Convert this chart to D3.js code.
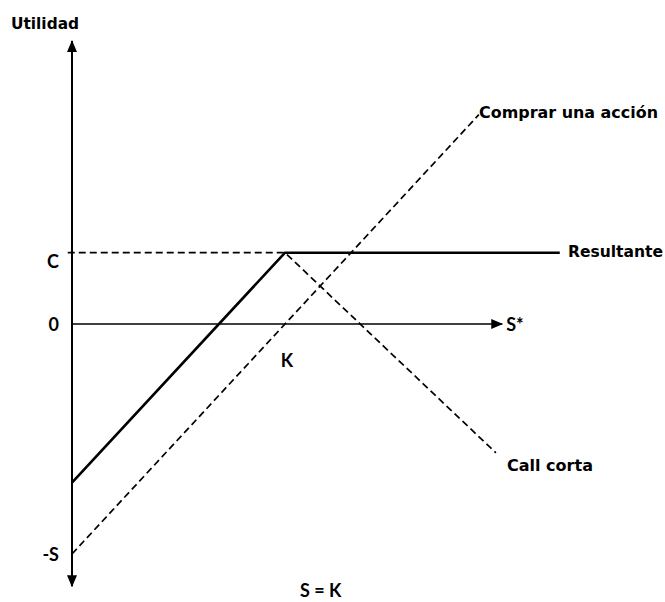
<!DOCTYPE html>
<html>
<head>
<meta charset="utf-8">
<script src="https://cdn.jsdelivr.net/npm/d3@7"></script>
<style>
  body { margin: 0; background: #fff; }
  svg { display: block; }
  .lbl { font-family: "DejaVu Sans", "Liberation Sans", Arial, sans-serif; font-weight: bold; fill: #000; }
  .tick { font-family: Lato, "Open Sans", sans-serif; font-weight: bold; fill: #000; }
</style>
</head>
<body>
<svg id="chart" width="665" height="602"></svg>
<script>
// payoff values (S = K = 10, premium C)
const K = 10;
const C = 3.1;
const S0 = 10;
const stockLine = [[0, -10], [19.1, 9.1]];          // comprar una acción
const callLine = [[-0.2, C], [K, C], [19.9, -5.6]];  // call corta (dashed)
const resultLine = [[0, -6.9], [K, C], [22.9, C]];   // resultante
const yTicks = [
  { v: C, text: "C" },
  { v: 0, text: "0" },
  { v: -S0, text: "-S" }
];
const xAxisEnd = 20.2;
const yAxisRange = [-11.4, 12.3];

const svg = d3.select("#chart");
const x = d3.scaleLinear().domain([0, 10]).range([72, 285]);
const y = d3.scaleLinear().domain([0, 10]).range([324, 94]);

const line = d3.line().x(d => x(d[0])).y(d => y(d[1]));

// arrow heads
const defs = svg.append("defs");
defs.append("marker")
    .attr("id", "arrow")
    .attr("viewBox", "0 0 12 10")
    .attr("refX", 11).attr("refY", 5)
    .attr("markerWidth", 12).attr("markerHeight", 10)
    .attr("markerUnits", "userSpaceOnUse")
    .attr("orient", "auto-start-reverse")
    .append("path")
    .attr("d", "M0,0 L12,5 L0,10 Z")
    .attr("fill", "#000");

// axes
svg.append("path")
    .attr("d", line([[0, yAxisRange[0]], [0, yAxisRange[1]]]))
    .attr("stroke", "#000").attr("stroke-width", 2)
    .attr("marker-start", "url(#arrow)")
    .attr("marker-end", "url(#arrow)");

svg.append("path")
    .attr("d", line([[0, 0], [xAxisEnd, 0]]))
    .attr("stroke", "#000").attr("stroke-width", 1.6)
    .attr("marker-end", "url(#arrow)");

// dashed lines
svg.append("path")
    .attr("d", line(stockLine))
    .attr("fill", "none").attr("stroke", "#000")
    .attr("stroke-width", 1.7).attr("stroke-dasharray", "7,4");

svg.append("path")
    .attr("d", line(callLine))
    .attr("fill", "none").attr("stroke", "#000")
    .attr("stroke-width", 1.7).attr("stroke-dasharray", "7,4");

// resultante
svg.append("path")
    .attr("d", line(resultLine))
    .attr("fill", "none").attr("stroke", "#000")
    .attr("stroke-width", 2.6);

// y labels (C sits a bit under its line in the original)
svg.selectAll(".ytick")
    .data(yTicks)
    .enter()
    .append("text")
    .attr("class", "tick")
    .attr("x", 59)
    .attr("y", d => y(d.v) + (d.text === "C" ? 15 : 7))
    .attr("text-anchor", "end")
    .style("font-size", "18px")
    .text(d => d.text);

// x labels
svg.append("text").attr("class", "tick")
    .attr("x", x(K) + 2).attr("y", 367)
    .attr("text-anchor", "middle")
    .style("font-size", "18px").text("K");

svg.append("text").attr("class", "tick")
    .attr("x", x(xAxisEnd) + 4).attr("y", y(0) + 7)
    .style("font-size", "18px").text("S*");

svg.append("text").attr("class", "tick")
    .attr("x", 300).attr("y", 597)
    .style("font-size", "18px").text("S = K");

// series labels
const labels = [
  { text: "Utilidad", x: 11, y: 29, w: 68 },
  { text: "Comprar una acción", x: 479, y: 118, w: 179 },
  { text: "Resultante", x: 568, y: 257, w: 95 },
  { text: "Call corta", x: 507, y: 471, w: 86 }
];
svg.selectAll(".lbl")
    .data(labels)
    .enter()
    .append("text")
    .attr("class", "lbl")
    .attr("x", d => d.x)
    .attr("y", d => d.y)
    .attr("textLength", d => d.w)
    .attr("lengthAdjust", "spacingAndGlyphs")
    .style("font-size", "15px")
    .text(d => d.text);
</script>
</body>
</html>
